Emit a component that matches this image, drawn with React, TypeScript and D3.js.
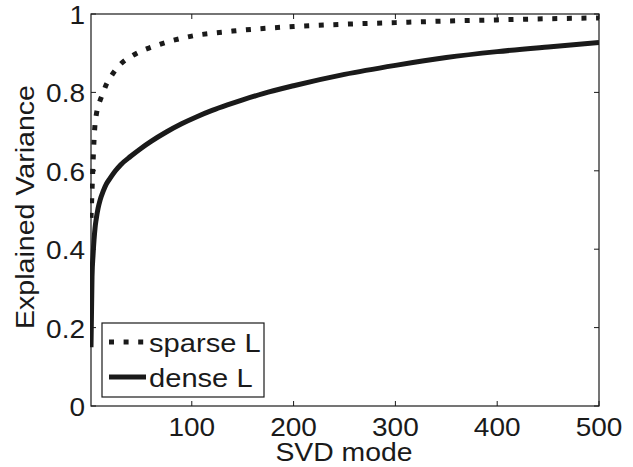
import React from "react";
import * as d3 from "d3";

const modes = [1, 2, 3, 4, 5, 6, 8, 10, 13, 16, 20, 25, 30, 40, 50, 60, 75, 90, 105, 120, 135, 150, 170, 200, 250, 300, 350, 400, 450, 500];
const sparseL = [0.48, 0.55, 0.62, 0.68, 0.72, 0.74, 0.765, 0.78, 0.8, 0.82, 0.838, 0.857, 0.872, 0.891, 0.905, 0.915, 0.928, 0.938, 0.946, 0.951, 0.955, 0.959, 0.963, 0.968, 0.974, 0.978, 0.982, 0.985, 0.988, 0.99];
const denseL = [0.15, 0.33, 0.385, 0.425, 0.455, 0.475, 0.505, 0.526, 0.548, 0.566, 0.582, 0.6, 0.615, 0.637, 0.657, 0.675, 0.699, 0.72, 0.738, 0.754, 0.768, 0.781, 0.797, 0.817, 0.846, 0.869, 0.889, 0.904, 0.916, 0.927];
const xTicks = [100, 200, 300, 400, 500];
const yTicks = [0, 0.2, 0.4, 0.6, 0.8, 1];
const seriesNames = ["sparse L", "dense L"];
const xLabel = "SVD mode";
const yLabel = "Explained Variance";

const W = 633, H = 467;
const L = 91, R = 599, T = 14, B = 406;
const FONT = "'Liberation Sans', Arial, Helvetica, sans-serif";
const SX = 1.12;

export default function App() {
  const x = d3.scaleLinear().domain([1, 500]).range([L, R]);
  const y = d3.scaleLinear().domain([0, 1]).range([B, T]);
  const line = d3.line<number>().x((_, i) => x(modes[i])).y((d) => y(d)).curve(d3.curveMonotoneX);
  const tickLen = 5;
  const ink = "#1a1a1a";
  return (
    <svg width={W} height={H} style={{ position: "absolute", left: 0, top: 0, background: "#fff" }} fontFamily={FONT}>
      <rect x={0} y={0} width={W} height={H} fill="#fff" />
      <defs>
        <clipPath id="plotclip"><rect x={L - 1} y={T - 3} width={R - L + 1} height={B - T + 3} /></clipPath>
      </defs>
      <g clipPath="url(#plotclip)">
        <path d={line(denseL) || ""} fill="none" stroke={ink} strokeWidth={5} />
        <path d={line(sparseL) || ""} fill="none" stroke={ink} strokeWidth={5} strokeDasharray="5,9.6" />
      </g>
      <rect x={L} y={T} width={R - L} height={B - T} fill="none" stroke={ink} strokeWidth={1.2} />
      {xTicks.map((t) => (
        <g key={"x" + t}>
          <line x1={x(t)} x2={x(t)} y1={B} y2={B - tickLen} stroke={ink} />
          <line x1={x(t)} x2={x(t)} y1={T} y2={T + tickLen} stroke={ink} />
          <text transform={`translate(${x(t)},436) scale(${SX},1)`} textAnchor="middle" fontSize={25} fill={ink}>{t}</text>
        </g>
      ))}
      {yTicks.map((t) => (
        <g key={"y" + t}>
          <line x1={L} x2={L + tickLen} y1={y(t)} y2={y(t)} stroke={ink} />
          <line x1={R} x2={R - tickLen} y1={y(t)} y2={y(t)} stroke={ink} />
          <text transform={`translate(85,${y(t) + 10}) scale(${SX},1)`} textAnchor="end" fontSize={25} fill={ink}>{t}</text>
        </g>
      ))}
      <text transform={`translate(344,461) scale(1.07,1)`} textAnchor="middle" fontSize={26.5} fill={ink}>{xLabel}</text>
      <text transform={`translate(34,207) rotate(-90) scale(${SX},1)`} textAnchor="middle" fontSize={25.5} fill={ink}>{yLabel}</text>
      <g>
        <rect x={102} y={323} width={162} height={74} fill="#fff" stroke={ink} strokeWidth={1.2} />
        <line x1={109} x2={146} y1={342} y2={342} stroke={ink} strokeWidth={5} strokeDasharray="5,9.6" />
        <text transform={`translate(149,352) scale(${SX},1)`} fontSize={26} fill={ink}>{seriesNames[0]}</text>
        <line x1={109} x2={146} y1={377} y2={377} stroke={ink} strokeWidth={5} />
        <text transform={`translate(149,387) scale(${SX},1)`} fontSize={26} fill={ink}>{seriesNames[1]}</text>
      </g>
    </svg>
  );
}
